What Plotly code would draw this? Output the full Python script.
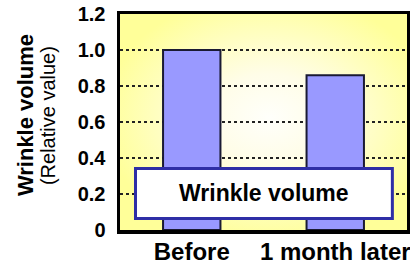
import base64
import plotly.graph_objects as go

categories = ["Before", "1 month later"]
values = [1.0, 0.86]
ytick_vals = [0, 0.2, 0.4, 0.6, 0.8, 1.0, 1.2]
ytick_text = ["0", "0.2", "0.4", "0.6", "0.8", "1.0", "1.2"]
y_title = "Wrinkle volume"
y_subtitle = "(Relative value)"
box_label = "Wrinkle volume"

FONT = "Arial, Liberation Sans, sans-serif"

svg = (
    '<svg xmlns="http://www.w3.org/2000/svg" width="300" height="220" '
    'viewBox="0 0 300 220" preserveAspectRatio="none">'
    '<defs><radialGradient id="g" cx="52%" cy="48%" r="58%">'
    '<stop offset="0%" stop-color="#fffffb"/>'
    '<stop offset="35%" stop-color="#fffde8"/>'
    '<stop offset="100%" stop-color="#ffff99"/>'
    '</radialGradient></defs>'
    '<rect width="300" height="220" fill="url(#g)"/></svg>'
)
svg_uri = "data:image/svg+xml;base64," + base64.b64encode(svg.encode()).decode()

fig = go.Figure()
fig.add_trace(go.Bar(
    x=categories, y=values, width=0.4,
    marker=dict(color="#9999ff", line=dict(color="#1a1a33", width=2)),
    showlegend=False, hoverinfo="skip",
))

fig.update_layout(
    width=410, height=268,
    margin=dict(l=120, r=3, t=14, b=38),
    paper_bgcolor="white",
    plot_bgcolor="rgba(0,0,0,0)",
    font=dict(family=FONT, color="black"),
    images=[dict(
        source=svg_uri, xref="x domain", yref="y domain",
        x=0, y=1, sizex=1, sizey=1, xanchor="left", yanchor="top",
        sizing="stretch", layer="below",
    )],
)

fig.update_yaxes(
    automargin=False,
    range=[0, 1.2], tickvals=ytick_vals, ticktext=ytick_text,
    tickfont=dict(family=FONT, size=20, color="black", weight="bold"),
    showgrid=True, gridcolor="#222222", griddash="dot", gridwidth=1.5,
    zeroline=False, showline=True, mirror=True, linewidth=3.5, linecolor="black",
    ticks="outside", ticklen=7, tickcolor="rgba(0,0,0,0)",
)
fig.update_xaxes(
    automargin=False,
    range=[-0.5, 1.5],
    tickfont=dict(family=FONT, size=24, color="black", weight="bold"),
    showline=True, mirror=True, linewidth=3.5, linecolor="black",
    ticks="", ticklen=0, ticklabelstandoff=-2,
)

# label box
fig.add_shape(
    type="rect", xref="x domain", yref="y",
    x0=0.054, x1=0.949, y0=0.064, y1=0.342,
    fillcolor="white", line=dict(color="#2e2ea6", width=3), layer="above",
)
fig.add_annotation(
    text=box_label, xref="x domain", yref="y", x=0.502, y=0.206,
    showarrow=False, xanchor="center", yanchor="middle",
    font=dict(family=FONT, size=23, color="black", weight="bold"),
)

# y-axis title (two lines)
fig.add_annotation(
    text=y_title, xref="paper", yref="paper", x=-0.331, y=0.532,
    showarrow=False, textangle=-90, xanchor="center", yanchor="middle",
    font=dict(family=FONT, size=22, color="black", weight="bold"),
)
fig.add_annotation(
    text=y_subtitle, xref="paper", yref="paper", x=-0.251, y=0.532,
    showarrow=False, textangle=-90, xanchor="center", yanchor="middle",
    font=dict(family=FONT, size=20, color="black"),
)

fig.write_html(
    "out.html",
    config={"displayModeBar": False, "staticPlot": True},
    post_script="document.body.style.margin='0';document.body.style.overflow='hidden';",
)
